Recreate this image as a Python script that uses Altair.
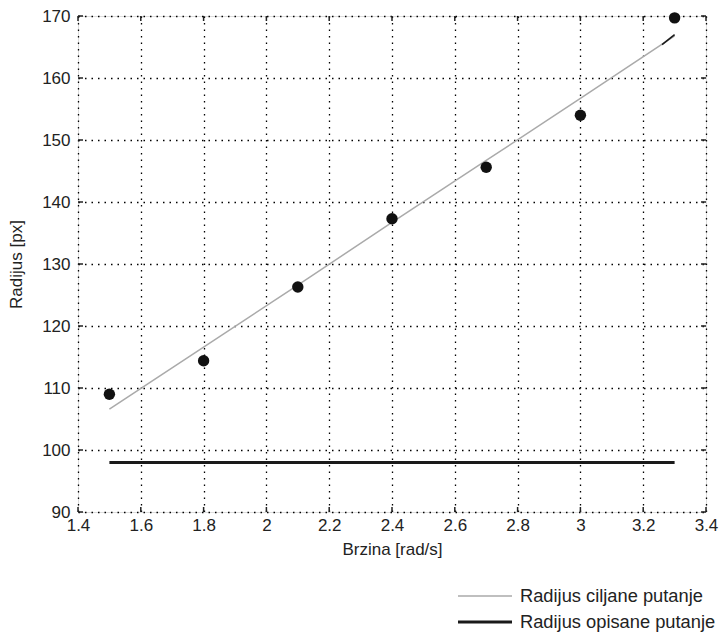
import altair as alt
import pandas as pd

# measured points
speeds = [1.5, 1.8, 2.1, 2.4, 2.7, 3.0, 3.3]
measured = [109.0, 114.4, 126.3, 137.3, 145.6, 154.0, 169.7]

# target radius line (gray)
target_x = [1.5, 1.8, 2.1, 2.4, 2.7, 3.0, 3.3]
target_y = [106.6, 116.6, 126.6, 136.7, 146.7, 156.7, 166.8]

# described radius line (black)
desc_x = [1.5, 3.3]
desc_y = [98.0, 98.0]
tail_x = [3.26, 3.3]
tail_y = [165.4, 167.0]

x_ticks = [1.4, 1.6, 1.8, 2.0, 2.2, 2.4, 2.6, 2.8, 3.0, 3.2, 3.4]
y_ticks = [90, 100, 110, 120, 130, 140, 150, 160, 170]

S1 = "Radijus ciljane putanje"
S2 = "Radijus opisane putanje"

target = pd.DataFrame({"x": target_x, "y": target_y})
desc = pd.DataFrame({"x": desc_x, "y": desc_y})
tail = pd.DataFrame({"x": tail_x, "y": tail_y})
pts = pd.DataFrame({"x": speeds, "y": measured})
xt = pd.DataFrame({"x": x_ticks})
yt = pd.DataFrame({"y": y_ticks})

W, H = 628, 496
FONT = "Liberation Sans"
FS = 17
GRAY = "#aaaaaa"
BLACK = "#1a1a1a"

xs = alt.Scale(domain=[1.4, 3.4], nice=False, zero=False)
ys = alt.Scale(domain=[90, 170], nice=False, zero=False)

x_axis = alt.Axis(values=x_ticks, format="~g", title="Brzina [rad/s]", grid=True,
                  gridDash=[1.5, 5], gridColor="#000", gridWidth=1.3, gridOpacity=1,
                  tickSize=0, domain=False, labelPadding=5, titlePadding=8,
                  labelFontSize=FS, titleFontSize=FS, labelFont=FONT, titleFont=FONT,
                  labelColor="#222", titleColor="#222", titleFontWeight="normal",
                  labelFlush=False)
y_axis = alt.Axis(values=y_ticks, title="Radijus [px]", grid=True,
                  gridDash=[1.5, 5], gridColor="#000", gridWidth=1.3, gridOpacity=1,
                  tickSize=0, domain=False, labelPadding=8, titlePadding=16,
                  labelFontSize=FS, titleFontSize=FS, labelFont=FONT, titleFont=FONT,
                  labelColor="#222", titleColor="#222", titleFontWeight="normal",
                  labelFlush=False)

base_axes = alt.Chart(pts).mark_point(opacity=0).encode(
    x=alt.X("x:Q", scale=xs, axis=x_axis),
    y=alt.Y("y:Q", scale=ys, axis=y_axis),
)

target_layer = alt.Chart(target).mark_line(color=GRAY, strokeWidth=1.5).encode(
    x=alt.X("x:Q", scale=xs), y=alt.Y("y:Q", scale=ys))
desc_layer = alt.Chart(desc).mark_line(color=BLACK, strokeWidth=3).encode(
    x=alt.X("x:Q", scale=xs), y=alt.Y("y:Q", scale=ys))
tail_layer = alt.Chart(tail).mark_line(color=BLACK, strokeWidth=1.6).encode(
    x=alt.X("x:Q", scale=xs), y=alt.Y("y:Q", scale=ys))

points = alt.Chart(pts).mark_circle(size=130, color="#111", opacity=1).encode(
    x=alt.X("x:Q", scale=xs),
    y=alt.Y("y:Q", scale=ys),
)

tick_b = alt.Chart(xt).mark_rule(color="#222", strokeWidth=1.5).encode(
    x=alt.X("x:Q", scale=xs), y=alt.value(H), y2=alt.value(H - 5))
tick_t = alt.Chart(xt).mark_rule(color="#222", strokeWidth=1.5).encode(
    x=alt.X("x:Q", scale=xs), y=alt.value(0), y2=alt.value(5))
tick_l = alt.Chart(yt).mark_rule(color="#222", strokeWidth=1.5).encode(
    y=alt.Y("y:Q", scale=ys), x=alt.value(0), x2=alt.value(5))
tick_r = alt.Chart(yt).mark_rule(color="#222", strokeWidth=1.5).encode(
    y=alt.Y("y:Q", scale=ys), x=alt.value(W), x2=alt.value(W - 5))

# legend (below the plot, bottom right)
leg_rows = [(S1, GRAY, 1.5, 580), (S2, BLACK, 3, 606)]
leg_layers = []
for name, col, sw, yy in leg_rows:
    d = pd.DataFrame({"series": [name]})
    leg_layers.append(alt.Chart(d).mark_rule(color=col, strokeWidth=sw).encode(
        x=alt.value(380), x2=alt.value(434), y=alt.value(yy)))
    leg_layers.append(alt.Chart(d).mark_text(align="left", baseline="middle", font=FONT,
                                             fontSize=18.3, color="#222").encode(
        x=alt.value(442), y=alt.value(yy + 1), text="series:N"))

chart = alt.layer(base_axes, tick_b, tick_t, tick_l, tick_r, target_layer, desc_layer,
                  tail_layer, points, *leg_layers).properties(
    width=W, height=H,
    autosize=alt.AutoSizeParams(type="none"),
    padding={"left": 78, "top": 16, "right": 16, "bottom": 122},
).configure_view(stroke="#222", strokeWidth=2).configure(background="white")

chart.save("out.html", embed_options={"renderer": "svg", "actions": False})
